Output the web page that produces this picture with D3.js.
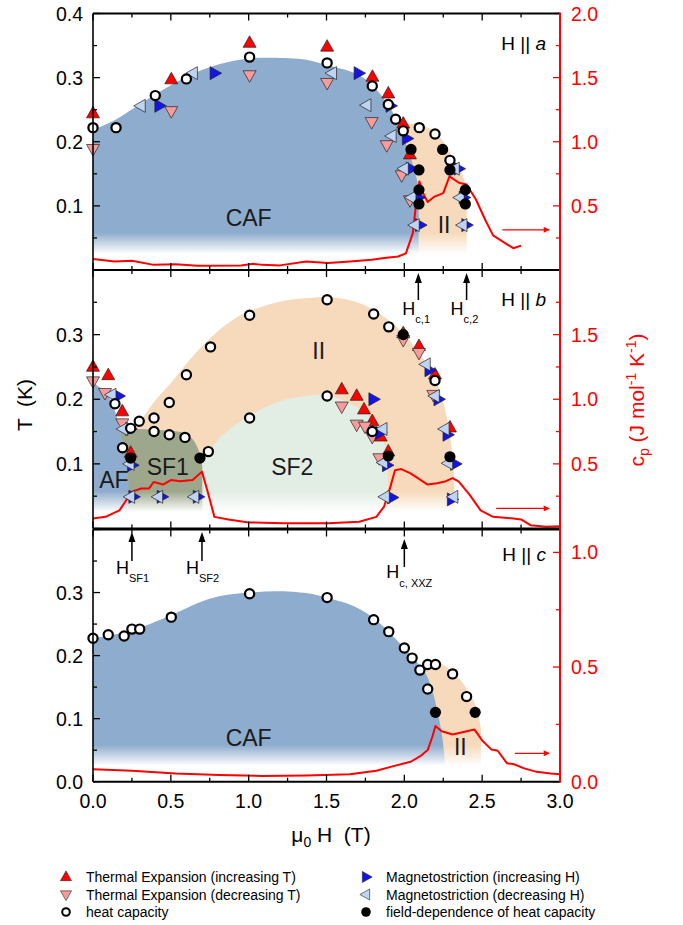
<!DOCTYPE html>
<html><head><meta charset="utf-8">
<script src="https://cdn.jsdelivr.net/npm/d3@7"></script>
<style>
body{margin:0;background:#fff}
svg{display:block;font-family:"Liberation Sans",Arial,sans-serif}
text{white-space:pre}
</style>
</head><body>
<svg id="chart" width="683" height="925"></svg>
<script>
// ---------------- DATA (H in T, T in K, cp in J/mol/K) ----------------
const xTickValues = [0, 0.5, 1.0, 1.5, 2.0, 2.5, 3.0];

// Panel a (H || a)
const aTEinc = [[0,0.244],[0.503,0.297],[1.006,0.354],[1.504,0.348],[1.795,0.301],[1.897,0.275],[1.993,0.228],[2.036,0.180]];
const aTEdec = [[0,0.189],[0.503,0.248],[1.006,0.304],[1.504,0.292],[1.79,0.231],[1.887,0.195],[1.983,0.148],[2.036,0.109]];
const aMSinc = [[0.425,0.256],[0.78,0.307],[1.705,0.307],[1.91,0.256],[2.015,0.205],[2.041,0.158],[2.09,0.113],[2.10,0.07],[2.347,0.158],[2.38,0.113],[2.397,0.07]];
const aMSdec = [[0.308,0.256],[0.643,0.307],[1.537,0.307],[1.758,0.257],[1.92,0.209],[1.998,0.158],[2.047,0.113],[2.068,0.07],[2.325,0.158],[2.357,0.113],[2.375,0.07]];
const aHC = [[0,0.222],[0.148,0.222],[0.40,0.272],[0.60,0.298],[1.006,0.332],[1.504,0.323],[1.794,0.287],[1.897,0.258],[1.944,0.235],[1.993,0.217],[2.096,0.222],[2.197,0.212],[2.293,0.171]];
const aHCfield = [[2.043,0.188],[2.246,0.188],[2.094,0.156],[2.293,0.156],[2.094,0.125],[2.392,0.125],[2.094,0.103],[2.392,0.103]];
const aCp = [[0,0.085],[0.14,0.067],[0.25,0.072],[0.39,0.04],[0.53,0.045],[0.67,0.033],[0.95,0.036],[1.03,0.048],[1.09,0.04],[1.2,0.036],[1.37,0.067],[1.51,0.054],[1.65,0.067],[1.79,0.08],[1.87,0.093],[1.96,0.105],[2.01,0.13],[2.055,0.29],[2.074,0.50],[2.097,0.69],[2.12,0.60],[2.15,0.53],[2.19,0.57],[2.25,0.60],[2.29,0.73],[2.35,0.68],[2.40,0.667],[2.46,0.55],[2.52,0.39],[2.57,0.27],[2.66,0.20],[2.70,0.17],[2.75,0.19]];
const aCAF = [[0,0.218],[0.15,0.235],[0.31,0.26],[0.5,0.288],[0.67,0.309],[0.81,0.321],[1.0,0.33],[1.15,0.331],[1.37,0.328],[1.51,0.319],[1.65,0.31],[1.76,0.296],[1.85,0.273],[1.93,0.244],[1.99,0.208],[2.04,0.176],[2.07,0.151],[2.09,0.13],[2.092,0.10]];
const aII = [[1.95,0.226],[2.05,0.228],[2.1,0.227],[2.2,0.215],[2.26,0.197],[2.31,0.176],[2.37,0.151],[2.40,0.12],[2.401,0.09]];

// Panel b (H || b)
const bTEinc = [[0,0.250],[0.098,0.237],[0.188,0.181],[0.242,0.117],[1.598,0.215],[1.694,0.205],[1.741,0.184],[1.794,0.166],[1.848,0.142],[1.897,0.119],[1.993,0.302],[2.094,0.282],[2.197,0.238],[2.293,0.156]];
const bTEdec = [[0,0.228],[0.077,0.21],[0.188,0.163],[1.598,0.189],[1.694,0.161],[1.747,0.158],[1.794,0.142],[1.84,0.109],[1.993,0.292],[2.094,0.272],[2.186,0.207]];
const bMSinc = [[0.163,0.205],[0.238,0.154],[0.25,0.098],[0.258,0.049],[0.44,0.049],[0.672,0.049],[1.80,0.2],[1.844,0.148],[1.887,0.098],[1.919,0.048],[2.16,0.245],[2.218,0.2],[2.276,0.145],[2.325,0.1],[2.304,0.045]];
const bMSdec = [[0.12,0.207],[0.195,0.154],[0.236,0.10],[0.24,0.049],[0.42,0.049],[0.652,0.049],[1.861,0.154],[1.865,0.102],[1.876,0.049],[2.139,0.254],[2.197,0.205],[2.26,0.154],[2.283,0.101],[2.316,0.049]];
const bHC = [[0.141,0.193],[0.19,0.125],[0.242,0.155],[0.297,0.166],[0.392,0.171],[0.392,0.150],[0.49,0.195],[0.49,0.145],[0.591,0.141],[0.60,0.238],[0.741,0.119],[0.755,0.281],[1.006,0.330],[1.006,0.171],[1.504,0.354],[1.504,0.205],[1.794,0.150],[1.803,0.332],[1.90,0.312],[2.197,0.229]];
const bHCfield = [[0.242,0.109],[0.687,0.109],[1.897,0.112],[2.293,0.111],[1.993,0.30]];
const bCp = [[0,0.078],[0.08,0.09],[0.17,0.14],[0.22,0.23],[0.25,0.285],[0.31,0.31],[0.36,0.31],[0.39,0.36],[0.45,0.34],[0.50,0.375],[0.56,0.365],[0.64,0.375],[0.70,0.44],[0.74,0.27],[0.78,0.09],[0.87,0.07],[1.0,0.047],[1.23,0.04],[1.51,0.04],[1.71,0.052],[1.82,0.09],[1.87,0.17],[1.91,0.32],[1.94,0.45],[1.98,0.46],[2.04,0.427],[2.15,0.34],[2.21,0.35],[2.26,0.363],[2.31,0.39],[2.35,0.363],[2.42,0.26],[2.49,0.14],[2.57,0.09],[2.70,0.078],[2.75,0.07],[2.81,0.026],[2.91,0.013],[3.0,0.018]];
const bAF = [[0,0.226],[0.06,0.215],[0.11,0.2],[0.15,0.175],[0.173,0.153],[0.206,0.117],[0.227,0.075],[0.235,0.03]];
const bSF1 = [[0.17,0.153],[0.3,0.154],[0.45,0.152],[0.58,0.148],[0.64,0.138],[0.68,0.12],[0.70,0.1],[0.702,0.07]];
const bSF2 = [[0.70,0.10],[0.78,0.13],[0.85,0.148],[1.0,0.174],[1.2,0.197],[1.4,0.206],[1.5,0.207],[1.59,0.2],[1.75,0.179],[1.865,0.137],[1.89,0.106],[1.895,0.07]];
const bII = [[0.25,0.155],[0.33,0.175],[0.4,0.198],[0.5,0.225],[0.6,0.255],[0.7,0.282],[0.8,0.305],[0.9,0.323],[1.0,0.336],[1.2,0.351],[1.4,0.357],[1.5,0.358],[1.6,0.356],[1.75,0.345],[1.9,0.322],[2.0,0.3],[2.1,0.27],[2.2,0.23],[2.25,0.195],[2.29,0.15],[2.31,0.11],[2.32,0.08],[2.322,0.05]];

// Panel c (H || c)
const cHC = [[0,0.2275],[0.098,0.233],[0.20,0.231],[0.25,0.242],[0.30,0.242],[0.503,0.261],[1.006,0.298],[1.504,0.292],[1.803,0.257],[1.90,0.238],[2.0,0.212],[2.05,0.196],[2.10,0.177],[2.15,0.186],[2.20,0.186],[2.15,0.147],[2.31,0.171],[2.40,0.135]];
const cHCfield = [[2.20,0.110],[2.455,0.110]];
const cCp = [[0,0.054],[0.25,0.048],[0.53,0.036],[0.81,0.029],[1.09,0.025],[1.37,0.027],[1.65,0.033],[1.82,0.048],[1.93,0.068],[2.04,0.087],[2.10,0.11],[2.15,0.138],[2.18,0.196],[2.20,0.243],[2.24,0.22],[2.31,0.206],[2.38,0.217],[2.45,0.228],[2.50,0.18],[2.56,0.14],[2.60,0.135],[2.66,0.08],[2.70,0.077],[2.77,0.058],[2.85,0.043],[2.94,0.036],[3.0,0.033]];
const cCAF = [[0,0.2275],[0.25,0.24],[0.53,0.267],[0.67,0.283],[0.81,0.294],[1.0,0.300],[1.2,0.302],[1.4,0.298],[1.51,0.291],[1.65,0.281],[1.79,0.262],[1.93,0.23],[2.07,0.193],[2.14,0.17],[2.18,0.145],[2.21,0.114],[2.24,0.077],[2.26,0.034],[2.265,0.01]];
const cII = [[2.08,0.183],[2.15,0.188],[2.21,0.19],[2.32,0.172],[2.42,0.14],[2.46,0.119],[2.49,0.087],[2.492,0.05]];

const legendItems = [
  {type:"TEinc", label:"Thermal Expansion (increasing T)"},
  {type:"TEdec", label:"Thermal Expansion (decreasing T)"},
  {type:"HC",    label:"heat capacity"},
  {type:"MSinc", label:"Magnetostriction (increasing H)"},
  {type:"MSdec", label:"Magnetostriction (decreasing H)"},
  {type:"HCf",   label:"field-dependence of heat capacity"}
];

// ---------------- LAYOUT / STYLE ----------------
const svg = d3.select("#chart");
const x = d3.scaleLinear([0,3],[93,560]);
const COL = {CAF:"#8eaccd", II:"#f6dabb", SF1:"#9ca78b", SF2:"#e2ede4", AF:"#8eaccd"};
const MK = {
  TEinc:{d:"M-6.5,4.3L6.5,4.3L0,-7.2Z", fill:"#ff0000"},
  TEdec:{d:"M-6.5,-4.3L6.5,-4.3L0,7.2Z", fill:"#f79c9c"},
  MSinc:{d:"M-4.3,-6.5L-4.3,6.5L7.2,0Z", fill:"#1414e6"},
  MSdec:{d:"M4.3,-6.5L4.3,6.5L-7.2,0Z", fill:"#bfd3f3"}
};

const defs = svg.append("defs");
const grad = defs.append("linearGradient").attr("id","fade").attr("x1",0).attr("y1",0).attr("x2",0).attr("y2",1);
grad.append("stop").attr("offset",0).attr("stop-color","#fff").attr("stop-opacity",0);
grad.append("stop").attr("offset",0.55).attr("stop-color","#fff").attr("stop-opacity",1);
grad.append("stop").attr("offset",1).attr("stop-color","#fff").attr("stop-opacity",1);
const ah = defs.append("marker").attr("id","rarrow").attr("viewBox","0 0 10 10").attr("refX",9).attr("refY",5)
  .attr("markerWidth",10).attr("markerHeight",6).attr("markerUnits","userSpaceOnUse").attr("orient","auto");
ah.append("path").attr("d","M0,0L10,5L0,10Z").attr("fill","#ff0000");

const panels = [
  {y:d3.scaleLinear([0,0.4],[270,13.5]), cp:d3.scaleLinear([0,2],[270,13.5]), cpTicks:d3.range(0,2.001,0.25), cpLabels:[0.5,1,1.5,2],
   tLabels:[0.1,0.2,0.3,0.4], dir:"a", dirY:50,
   regions:[["II",aII],["CAF",aCAF]], cpLine:aCp, arrow:[2.63,2.93,0.0626],
   marks:{TEinc:aTEinc,TEdec:aTEdec,MSinc:aMSinc,MSdec:aMSdec,HC:aHC,HCf:aHCfield},
   labels:[["CAF",1.0,0.068],["II",2.255,0.058]]},
  {y:d3.scaleLinear([0,0.4],[528.5,270]), cp:d3.scaleLinear([0,2],[528.5,270]), cpTicks:d3.range(0,2.001,0.25), cpLabels:[0.5,1,1.5],
   tLabels:[0.1,0.2,0.3], dir:"b", dirY:306,
   regions:[["II",bII],["SF2",bSF2],["SF1",bSF1],["AF",bAF]], cpLine:bCp, arrow:[2.59,2.93,0.031],
   marks:{TEinc:bTEinc,TEdec:bTEdec,MSinc:bMSinc,MSdec:bMSdec,HC:bHC,HCf:bHCfield},
   labels:[["II",1.45,0.262],["SF1",0.48,0.083],["SF2",1.28,0.083],["AF",0.134,0.063]]},
  {y:d3.scaleLinear([0,0.4],[781.7,529.5]), cp:d3.scaleLinear([0,1.1],[781.7,529.5]), cpTicks:d3.range(0,1.001,0.25), cpLabels:[0,0.5,1.0],
   tLabels:[0,0.1,0.2,0.3], dir:"c", dirY:561,
   regions:[["II",cII],["CAF",cCAF]], cpLine:cCp, arrow:[2.71,2.93,0.045],
   marks:{TEinc:[],TEdec:[],MSinc:[],MSdec:[],HC:cHC,HCf:cHCfield},
   labels:[["CAF",1.0,0.056],["II",2.36,0.042]]}
];

const fmt = d3.format(".1f");
const smooth = d3.line().curve(d3.curveCatmullRom.alpha(0.5));

panels.forEach((p,pi)=>{
  const g = svg.append("g");
  const y = p.y, y0 = y(0);
  p.regions.forEach(([name,pts])=>{
    const sx = pts.map(d=>[x(d[0]),y(d[1])]);
    const first = pts[0], last = pts[pts.length-1];
    const d = smooth(sx) + `L${x(last[0])},${y0}L${x(first[0])},${y0}Z`;
    g.append("path").attr("d",d).attr("fill",COL[name]);
  });
  g.append("rect").attr("x",x(0)).attr("width",x(3)-x(0)).attr("y",y(0.058)).attr("height",y0-y(0.058)+1).attr("fill","url(#fade)");
  p.labels.forEach(([t,h,tv])=>{
    g.append("text").attr("x",x(h)).attr("y",y(tv)).attr("text-anchor","middle").attr("font-size",23).attr("fill","#1a1a1a").text(t);
  });
  g.append("path").attr("d",d3.line().x(d=>x(d[0])).y(d=>p.cp(d[1]))(p.cpLine))
    .attr("fill","none").attr("stroke","#ff0000").attr("stroke-width",2).attr("stroke-linejoin","round");
  g.append("line").attr("x1",x(p.arrow[0])).attr("x2",x(p.arrow[1])).attr("y1",y(p.arrow[2])).attr("y2",y(p.arrow[2]))
    .attr("stroke","#ff0000").attr("stroke-width",1.3).attr("marker-end","url(#rarrow)");
  ["TEinc","TEdec","MSinc","MSdec"].forEach(k=>{
    g.selectAll(null).data(p.marks[k]).join("path")
      .attr("d",MK[k].d).attr("transform",d=>`translate(${x(d[0])},${y(d[1])})`)
      .attr("fill",MK[k].fill).attr("stroke","#222").attr("stroke-width",0.7);
  });
  g.selectAll(null).data(p.marks.HC).join("circle")
    .attr("cx",d=>x(d[0])).attr("cy",d=>y(d[1])).attr("r",4.6)
    .attr("fill","#fff").attr("stroke","#000").attr("stroke-width",2.2);
  g.selectAll(null).data(p.marks.HCf).join("circle")
    .attr("cx",d=>x(d[0])).attr("cy",d=>y(d[1])).attr("r",5.6).attr("fill","#000");

  const top = y(0.4);
  d3.range(0,3.001,0.25).forEach(v=>{
    const L = (Math.abs(v*2-Math.round(v*2))<1e-6)?7:4;
    g.append("line").attr("x1",x(v)).attr("x2",x(v)).attr("y1",y0).attr("y2",y0-L).attr("stroke","#000").attr("stroke-width",1.3);
    g.append("line").attr("x1",x(v)).attr("x2",x(v)).attr("y1",top).attr("y2",top+L).attr("stroke","#000").attr("stroke-width",1.3);
  });
  d3.range(0,0.4001,0.05).forEach(v=>{
    const L = (Math.abs(v*10-Math.round(v*10))<1e-6)?7:4;
    g.append("line").attr("x1",x(0)).attr("x2",x(0)+L).attr("y1",y(v)).attr("y2",y(v)).attr("stroke","#000").attr("stroke-width",1.3);
  });
  p.tLabels.forEach(v=>{
    g.append("text").attr("x",83).attr("y",y(v)+7).attr("text-anchor","end").attr("font-size",19.5).text(fmt(v));
  });
  p.cpTicks.forEach(v=>{
    const L = (Math.abs(v*2-Math.round(v*2))<1e-6)?7:4;
    g.append("line").attr("x1",x(3)).attr("x2",x(3)-L).attr("y1",p.cp(v)).attr("y2",p.cp(v)).attr("stroke","#ff0000").attr("stroke-width",1.3);
  });
  p.cpLabels.forEach(v=>{
    g.append("text").attr("x",571).attr("y",p.cp(v)+7).attr("font-size",19.5).attr("fill","#ff0000").text(fmt(v));
  });
  g.append("line").attr("x1",x(0)).attr("x2",x(3)).attr("y1",top).attr("y2",top).attr("stroke","#000").attr("stroke-width",2);
  g.append("line").attr("x1",x(0)).attr("x2",x(3)).attr("y1",y0).attr("y2",y0).attr("stroke","#000").attr("stroke-width",2);
  g.append("line").attr("x1",x(0)).attr("x2",x(0)).attr("y1",top).attr("y2",y0).attr("stroke","#000").attr("stroke-width",1.6);
  g.append("line").attr("x1",x(3)).attr("x2",x(3)).attr("y1",top-1).attr("y2",y0+1).attr("stroke","#ff0000").attr("stroke-width",2);
  const dl = g.append("text").attr("x",546).attr("y",p.dirY).attr("text-anchor","end").attr("font-size",19);
  dl.append("tspan").text("H || ");
  dl.append("tspan").attr("font-style","italic").text(p.dir);
});

xTickValues.forEach(v=>{
  svg.append("text").attr("x",x(v)).attr("y",808).attr("text-anchor","middle").attr("font-size",19.5).text(fmt(v));
});

const fieldMarks = [
  {h:2.09, y1:300, y2:273, main:"H", sub:"c,1", ty:315, sy:323, tx:-16},
  {h:2.40, y1:300, y2:273, main:"H", sub:"c,2", ty:315, sy:323, tx:-16},
  {h:0.25, y1:561, y2:532, main:"H", sub:"SF1", ty:574, sy:582, tx:-16},
  {h:0.70, y1:561, y2:532, main:"H", sub:"SF2", ty:574, sy:582, tx:-16},
  {h:2.00, y1:567, y2:539, main:"H", sub:"c, XXZ", ty:578, sy:587, tx:-18}
];
fieldMarks.forEach(f=>{
  const xx = x(f.h);
  svg.append("line").attr("x1",xx).attr("x2",xx).attr("y1",f.y1).attr("y2",f.y2+8).attr("stroke","#000").attr("stroke-width",1.5);
  svg.append("path").attr("d",`M${xx-3.5},${f.y2+10}L${xx+3.5},${f.y2+10}L${xx},${f.y2}Z`).attr("fill","#000");
  svg.append("text").attr("x",xx+f.tx).attr("y",f.ty).attr("font-size",18).text(f.main);
  svg.append("text").attr("x",xx+f.tx+13).attr("y",f.sy).attr("font-size",11).text(f.sub);
});

svg.append("text").attr("transform","translate(32,405) rotate(-90)").attr("text-anchor","middle").attr("font-size",21).text("T  (K)");
const rt = svg.append("text").attr("transform","translate(644,400) rotate(-90)").attr("text-anchor","middle").attr("font-size",21).attr("fill","#ff0000");
rt.append("tspan").text("c");
rt.append("tspan").attr("font-size",14).attr("dy",5).text("p");
rt.append("tspan").attr("dy",-5).text(" (J mol");
rt.append("tspan").attr("font-size",14).attr("dy",-8).text("-1");
rt.append("tspan").attr("dy",8).text(" K");
rt.append("tspan").attr("font-size",14).attr("dy",-8).text("-1");
rt.append("tspan").attr("dy",8).text(")");

const xl = svg.append("text").attr("x",331).attr("y",842).attr("text-anchor","middle").attr("font-size",21);
xl.append("tspan").text("\u03bc");
xl.append("tspan").attr("font-size",14).attr("dy",5).text("0");
xl.append("tspan").attr("dy",-5).text(" H  (T)");

legendItems.forEach((it,i)=>{
  const col = Math.floor(i/3), row = i%3;
  const mx = col===0?66:366, tx = col===0?86:386, yy = 877+row*17.5;
  const gg = svg.append("g").attr("transform",`translate(${mx},${yy})`);
  if (it.type==="HC") gg.append("circle").attr("r",3.8).attr("fill","#fff").attr("stroke","#000").attr("stroke-width",2);
  else if (it.type==="HCf") gg.append("circle").attr("r",4.8).attr("fill","#000");
  else gg.append("path").attr("d",MK[it.type].d).attr("transform","scale(0.85)").attr("fill",MK[it.type].fill).attr("stroke","#222").attr("stroke-width",0.7);
  svg.append("text").attr("x",tx).attr("y",yy+5).attr("font-size",14).text(it.label);
});
</script>
</body></html>
